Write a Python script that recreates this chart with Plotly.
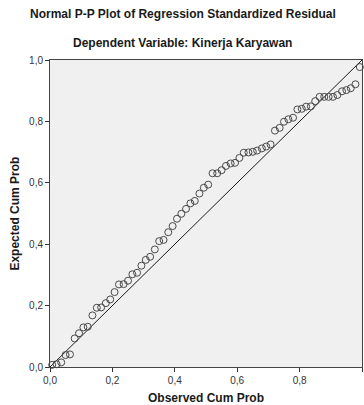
import plotly.graph_objects as go

# Observed cumulative probability (x) and expected cumulative probability (y)
observed_cum_prob = [
    0.007, 0.021, 0.036, 0.05, 0.064, 0.079, 0.093, 0.107, 0.121, 0.136,
    0.15, 0.164, 0.179, 0.193, 0.207, 0.221, 0.236, 0.25, 0.264, 0.279,
    0.293, 0.307, 0.321, 0.336, 0.35, 0.364, 0.379, 0.393, 0.407, 0.421,
    0.436, 0.45, 0.464, 0.479, 0.493, 0.507, 0.521, 0.536, 0.55, 0.564,
    0.579, 0.593, 0.607, 0.621, 0.636, 0.65, 0.664, 0.679, 0.693, 0.707,
    0.721, 0.736, 0.75, 0.764, 0.779, 0.793, 0.807, 0.821, 0.836, 0.85,
    0.864, 0.879, 0.893, 0.907, 0.921, 0.936, 0.95, 0.964, 0.979, 0.993,
]
expected_cum_prob = [
    0.007, 0.009, 0.015, 0.039, 0.041, 0.093, 0.110, 0.129, 0.131, 0.168,
    0.193, 0.194, 0.208, 0.220, 0.244, 0.269, 0.270, 0.281, 0.302, 0.307,
    0.330, 0.349, 0.359, 0.383, 0.410, 0.414, 0.439, 0.459, 0.483, 0.499,
    0.515, 0.533, 0.541, 0.565, 0.584, 0.594, 0.631, 0.631, 0.641, 0.655,
    0.663, 0.665, 0.681, 0.698, 0.699, 0.701, 0.705, 0.712, 0.718, 0.725,
    0.770, 0.779, 0.799, 0.807, 0.812, 0.839, 0.841, 0.848, 0.849, 0.866,
    0.880, 0.880, 0.880, 0.880, 0.886, 0.898, 0.902, 0.908, 0.921, 0.977,
]
reference_line_x = [0.0, 1.0]
reference_line_y = [0.0, 1.0]
tick_values = [0.0, 0.2, 0.4, 0.6, 0.8, 1.0]
tick_labels = ["0,0", "0,2", "0,4", "0,6", "0,8", "1,0"]

title_text = "Normal P-P Plot of Regression Standardized Residual"
subtitle_text = "Dependent Variable: Kinerja Karyawan"
x_title = "Observed Cum Prob"
y_title = "Expected Cum Prob"

FONT = "Liberation Sans, Arial, sans-serif"

fig = go.Figure()
fig.add_trace(go.Scatter(
    x=reference_line_x, y=reference_line_y, mode="lines",
    line=dict(color="#1a1a1a", width=1), hoverinfo="skip", showlegend=False,
))
fig.add_trace(go.Scatter(
    x=observed_cum_prob, y=expected_cum_prob, mode="markers",
    marker=dict(symbol="circle-open", size=7, color="#4a4a4a",
                line=dict(width=1, color="#4a4a4a")),
    showlegend=False, cliponaxis=False,
))

axis_common = dict(
    range=[0, 1], tickvals=tick_values, ticktext=tick_labels,
    ticks="outside", ticklen=4, tickwidth=1, tickcolor="#333333",
    showline=True, linecolor="#444444", linewidth=1, mirror=True,
    showgrid=False, zeroline=False,
    tickfont=dict(family=FONT, size=10, color="#333333"),
)

fig.update_layout(
    width=364, height=405,
    margin=dict(l=50, r=2, t=60, b=38),
    paper_bgcolor="white", plot_bgcolor="#f0f0f0",
    xaxis=dict(**axis_common),
    yaxis=dict(**axis_common),
    font=dict(family=FONT),
    annotations=[
        dict(text="<b>" + title_text + "</b>", xref="paper", yref="paper",
             x=0.426, y=1.150, xanchor="center", yanchor="middle",
             showarrow=False, font=dict(family=FONT, size=12, color="#1a1a1a")),
        dict(text="<b>" + subtitle_text + "</b>", xref="paper", yref="paper",
             x=0.426, y=1.055, xanchor="center", yanchor="middle",
             showarrow=False, font=dict(family=FONT, size=12, color="#1a1a1a")),
        dict(text="<b>" + x_title + "</b>", xref="paper", yref="paper",
             x=0.5, y=-0.100, xanchor="center", yanchor="middle",
             showarrow=False, font=dict(family=FONT, size=12, color="#1a1a1a")),
        dict(text="<b>" + y_title + "</b>", xref="paper", yref="paper",
             x=-0.115, y=0.5, xanchor="center", yanchor="middle", textangle=-90,
             showarrow=False, font=dict(family=FONT, size=12, color="#1a1a1a")),
    ],
)

fig.write_html("out.html")
